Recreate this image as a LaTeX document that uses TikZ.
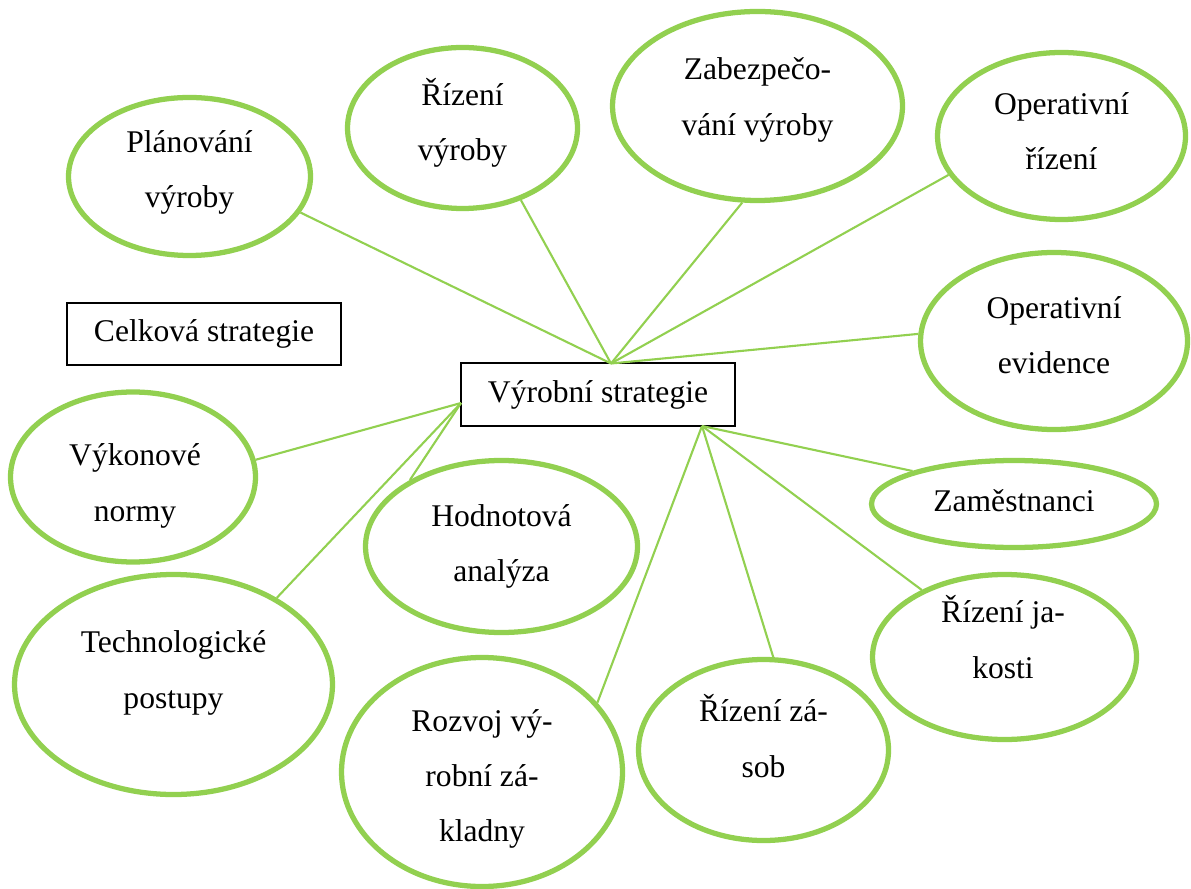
\documentclass[tikz,border=0pt]{standalone}
\usepackage{fontspec}
\setmainfont{Liberation Serif}
\usetikzlibrary{shapes.geometric}
\definecolor{v}{RGB}{146, 208, 80}

\begin{document}
\begin{tikzpicture}[x=0.38pt,y=-0.38pt,
	bulle/.style 2 args={ellipse,draw=v,line width=2pt,inner sep=0pt,
		minimum width=#1*0.38pt,minimum height=#2*0.38pt},
	texte/.style={align=center,inner sep=0pt},
	boite/.style 2 args={rectangle,draw,line width=0.6pt,inner sep=0pt,
		minimum width=#1*0.38pt,minimum height=#2*0.38pt},
	rayon/.style={draw=v,line width=0.8pt},
	font=\fontsize{12}{21}\selectfont]
			\useasboundingbox (0,0) rectangle (1191,888);
			% les deux cadres
			\node[boite={274}{62}] (celk) at (204,334) {Celková strategie};
			\node[boite={274}{63}] (vyr) at (598,394.5) {Výrobní strategie};
			\coordinate (hubN) at (611,363.5);
			\coordinate (hubW) at (461,403);
			\coordinate (hubS) at (702,426);
			% les bulles
			\node[bulle={242}{158}] (plan) at (189.5,176.5) {};
			\node[texte] (planT) at (189.5,172.5) {Plánování\\výroby};
			\node[bulle={230}{161}] (riz) at (462.5,128) {};
			\node[texte] (rizT) at (462.5,123) {Řízení\\výroby};
			\node[bulle={290}{189}] (zab) at (757.5,106) {};
			\node[texte] (zabT) at (757.5,100) {Zabezpečo-\\vání výroby};
			\node[bulle={248}{167}] (oprz) at (1061.5,136) {};
			\node[texte] (oprzT) at (1061.5,131) {Operativní\\řízení};
			\node[bulle={267}{177}] (opev) at (1054,341) {};
			\node[texte] (opevT) at (1054,335) {Operativní\\evidence};
			\node[bulle={285}{87}] (zam) at (1014,504) {};
			\node[texte] (zamT) at (1014,501) {Zaměstnanci};
			\node[bulle={264}{165}] (jak) at (1004.5,657) {};
			\node[texte] (jakT) at (1003,637) {Řízení ja-\\kosti};
			\node[bulle={250}{181}] (zas) at (763.5,750) {};
			\node[texte] (zasT) at (763.5,736) {Řízení zá-\\sob};
			\node[bulle={281}{229}] (roz) at (482,772) {};
			\node[texte] (rozT) at (482,779) {Rozvoj vý-\\robní zá-\\kladny};
			\node[bulle={318}{220}] (tech) at (173.5,684.5) {};
			\node[texte] (techT) at (173.5,673) {Technologické\\postupy};
			\node[bulle={272}{172}] (hodn) at (501.5,546.5) {};
			\node[texte] (hodnT) at (501.5,546.5) {Hodnotová\\analýza};
			\node[bulle={245}{170}] (vyk) at (133,477) {};
			\node[texte] (vykT) at (135,486) {Výkonové\\normy};
			% les rayons
			\foreach \b/\a in {plan/342, riz/309.3, zab/261.5, oprz/199.7, opev/177.5}
				\draw[rayon] (hubN) -- (\b.\a);
			\foreach \b/\a in {vyk/8.3, tech/40.9, hodn/144.2}
				\draw[rayon] (hubW) -- (\b.\a);
			\foreach \b/\a in {zam/162.4, jak/141, zas/84.3, roz/31.3}
				\draw[rayon] (hubS) -- (\b.\a);
\end{tikzpicture}
\end{document}
